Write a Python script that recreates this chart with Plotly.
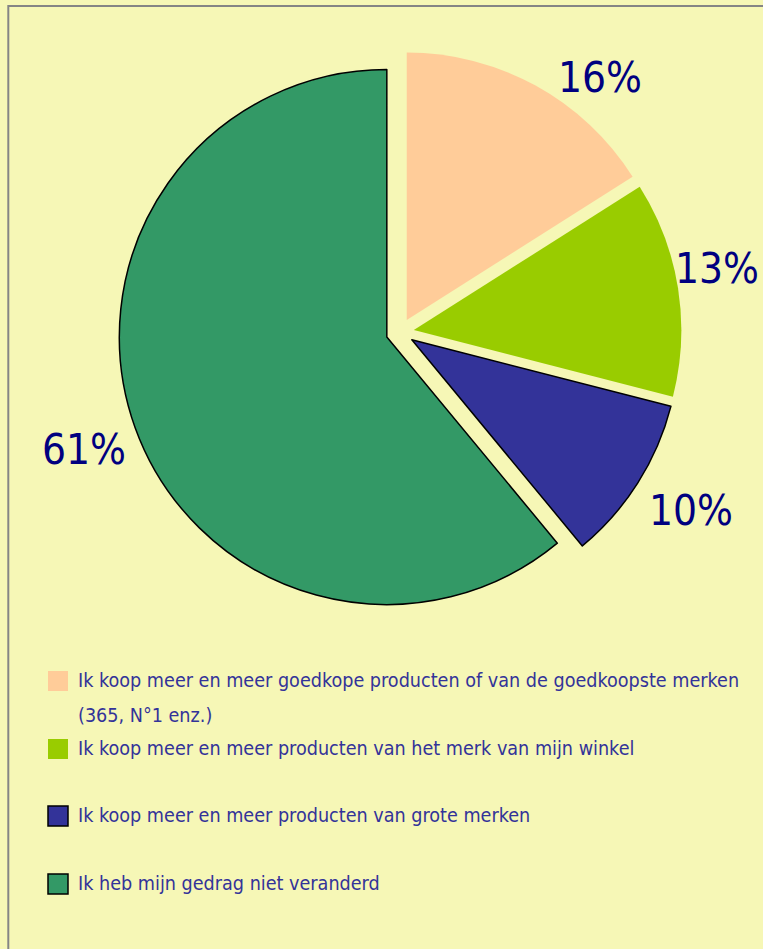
import math
import plotly.graph_objects as go

# --- data -------------------------------------------------------------
categories = [
    "Ik koop meer en meer goedkope producten of van de goedkoopste merken<br>(365, N°1 enz.)",
    "Ik koop meer en meer producten van het merk van mijn winkel",
    "Ik koop meer en meer producten van grote merken",
    "Ik heb mijn gedrag niet veranderd",
]
shares = [16, 13, 10, 61]
pct_labels = [f"{v}%" for v in shares]

# --- styling ----------------------------------------------------------
slice_colors = ["#FFCC99", "#99CC00", "#333399", "#339966"]
outline_colors = ["rgba(0,0,0,0)", "rgba(0,0,0,0)", "#000000", "#000000"]
outline_widths = [0, 0, 1.5, 1.5]

BG = "#F6F7B6"
FRAME = "#858585"
PCT_COLOR = "#000080"
LEGEND_COLOR = "#333399"
FONT = "DejaVu Sans Condensed, Liberation Sans, sans-serif"

W, H = 763, 949

# pie geometry (pixels)
cx_px, cy_px = 400.0, 332.3
radius_px = 267.5
pull_px = 14.0
pull = pull_px / radius_px
half = radius_px + pull_px
dom_x = [(cx_px - half) / W, (cx_px + half) / W]
dom_y = [(H - cy_px - half) / H, (H - cy_px + half) / H]
cxf = (dom_x[0] + dom_x[1]) / 2
cyf = (dom_y[0] + dom_y[1]) / 2

# nudges of the percentage labels away from the slice rim (px, y up)
label_nudge = [(64, 8), (39, 20), (53, -27), (-51, -22)]

# legend rows (pixel centre of each row from the top)
legend_rows = [680, 748, 815, 883]
legend_line_pitch = 35
sq_x0, sq_x1, sq_half = 48, 68, 10
text_x = 76

fig = go.Figure(
    go.Pie(
        labels=categories,
        values=shares,
        sort=False,
        direction="clockwise",
        rotation=0,
        pull=[pull] * len(shares),
        marker=dict(colors=slice_colors,
                    line=dict(color=outline_colors, width=outline_widths)),
        textinfo="none",
        hoverinfo="skip",
        showlegend=False,
        domain=dict(x=dom_x, y=dom_y),
    )
)

annotations = []
shapes = []

# percentage labels, anchored at each slice's outer rim midpoint
total = sum(shares)
start = 0
for i, v in enumerate(shares):
    mid = (start + v / 2) / total * 2 * math.pi
    start += v
    ex = cxf + half * math.sin(mid) / W
    ey = cyf + half * math.cos(mid) / H
    dx, dy = label_nudge[i]
    annotations.append(dict(
        x=ex, y=ey, xref="paper", yref="paper",
        xshift=dx, yshift=dy,
        text=pct_labels[i], showarrow=False,
        xanchor="center", yanchor="middle",
        font=dict(family=FONT, size=42, color=PCT_COLOR),
    ))

# legend: coloured squares and category texts
for i, cat in enumerate(categories):
    yc = legend_rows[i]
    shapes.append(dict(
        type="rect", xref="paper", yref="paper",
        x0=sq_x0 / W, x1=sq_x1 / W,
        y0=(H - yc - 1 - sq_half) / H, y1=(H - yc - 1 + sq_half) / H,
        fillcolor=slice_colors[i],
        line=dict(color=outline_colors[i], width=outline_widths[i]),
    ))
    for j, line in enumerate(cat.split("<br>")):
        annotations.append(dict(
            x=text_x / W, y=(H - yc - j * legend_line_pitch) / H,
            xref="paper", yref="paper",
            text=line, showarrow=False, align="left",
            xanchor="left", yanchor="middle",
            font=dict(family=FONT, size=19.6, color=LEGEND_COLOR),
        ))

# frame along the top and left edges
shapes.append(dict(
    type="rect", xref="paper", yref="paper",
    x0=8.3 / W, x1=1.05, y0=-0.05, y1=1 - 6 / H,
    line=dict(color=FRAME, width=2), fillcolor="rgba(0,0,0,0)",
    layer="below",
))

fig.update_layout(
    width=W, height=H,
    margin=dict(l=0, r=0, t=0, b=0),
    paper_bgcolor=BG, plot_bgcolor=BG,
    annotations=annotations,
    shapes=shapes,
)

fig.write_html("out.html")
